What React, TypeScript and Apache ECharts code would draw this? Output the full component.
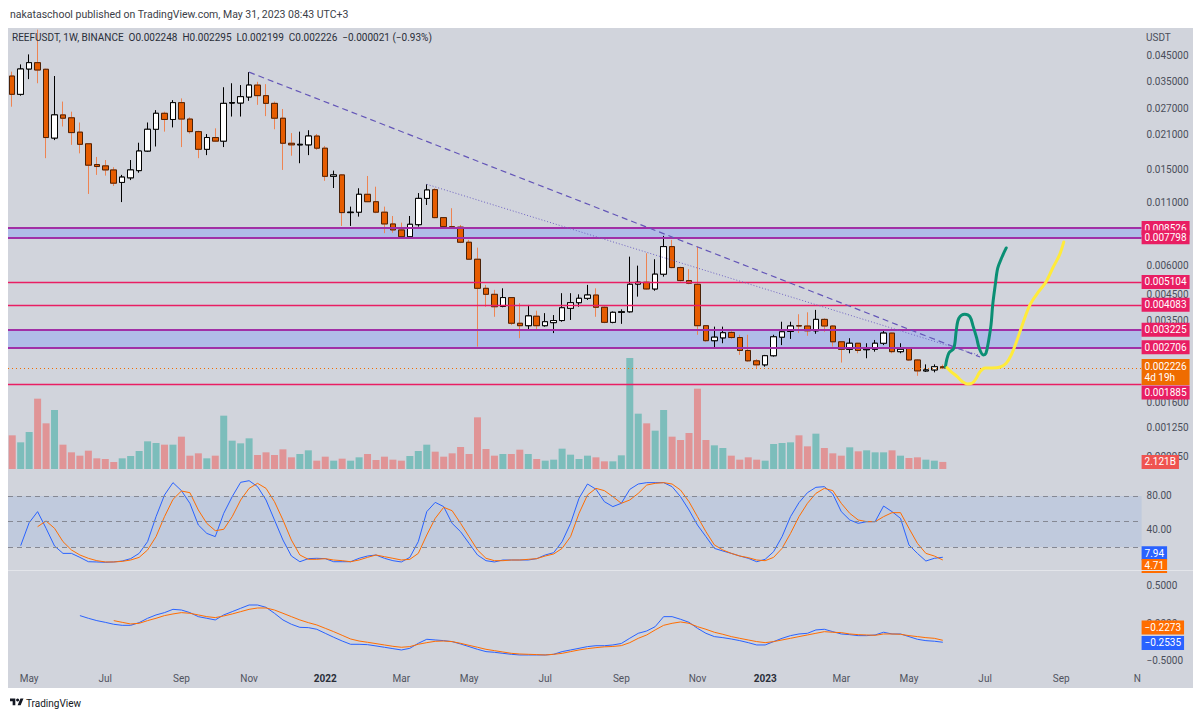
import React, { useEffect, useRef } from "react";
import * as echarts from "echarts";

echarts.graphic.registerShape(
  "tvlogo",
  echarts.graphic.extendPath("M14 22H7V11H0V4h14v18zM28 22h-8l7.5-18h8L28 22z", {})
);

// ---------- DATA ----------
const FIRST_WEEK = "2021-04-19";
const TOTAL_WEEKS = 134;
const MONTHS = ["Jan", "Feb", "Mar", "Apr", "May", "Jun", "Jul", "Aug", "Sep", "Oct", "Nov", "Dec"];

// [open, close, low, high]
const CANDLES: number[][] = [
  [0.0371, 0.0311, 0.0276, 0.0387], [0.0311, 0.0397, 0.0307, 0.0415], [0.0397, 0.0422, 0.036, 0.0457],
  [0.0422, 0.0393, 0.0346, 0.058], [0.0396, 0.0205, 0.0168, 0.0398], [0.0204, 0.0255, 0.02, 0.0371],
  [0.0255, 0.0247, 0.0228, 0.029], [0.0248, 0.0215, 0.0191, 0.0263], [0.0216, 0.0192, 0.0176, 0.0237],
  [0.0193, 0.0157, 0.0119, 0.0193], [0.0158, 0.0155, 0.0143, 0.017], [0.0156, 0.015, 0.0142, 0.0165],
  [0.015, 0.0132, 0.01285, 0.0154], [0.0133, 0.014, 0.011, 0.0143], [0.0139, 0.015, 0.0136, 0.0165],
  [0.0149, 0.018, 0.0146, 0.0195], [0.018, 0.0222, 0.0179, 0.0237], [0.0222, 0.0259, 0.0188, 0.0267],
  [0.0259, 0.0244, 0.0217, 0.0263], [0.0244, 0.0287, 0.0226, 0.0294], [0.0287, 0.0245, 0.0187, 0.0299],
  [0.0245, 0.0217, 0.0213, 0.0249], [0.0217, 0.0183, 0.0168, 0.0219], [0.0183, 0.0205, 0.0173, 0.0212],
  [0.0205, 0.0198, 0.0197, 0.0224], [0.0198, 0.0285, 0.0187, 0.0333], [0.0286, 0.0287, 0.0251, 0.0346],
  [0.0286, 0.0304, 0.0251, 0.034], [0.0303, 0.034, 0.0292, 0.0385], [0.034, 0.0307, 0.0281, 0.0351],
  [0.0307, 0.0285, 0.0252, 0.0343], [0.0285, 0.0247, 0.0222, 0.029], [0.0247, 0.0194, 0.015, 0.027],
  [0.0194, 0.0191, 0.0172, 0.0214], [0.0191, 0.0192, 0.016, 0.0217], [0.0191, 0.0208, 0.0173, 0.022],
  [0.0208, 0.0185, 0.0182, 0.0212], [0.0185, 0.0141, 0.0135, 0.0189], [0.0141, 0.0143, 0.0126, 0.0149],
  [0.0143, 0.00994, 0.00874, 0.0144], [0.00994, 0.00998, 0.00874, 0.01053], [0.00998, 0.01186, 0.00956, 0.01257],
  [0.01186, 0.01104, 0.011, 0.01415], [0.01104, 0.00998, 0.00988, 0.01276], [0.00998, 0.00891, 0.00815, 0.01053],
  [0.00891, 0.00841, 0.00819, 0.00962], [0.00841, 0.00788, 0.00784, 0.00902], [0.00788, 0.00888, 0.00784, 0.00962],
  [0.00885, 0.0114, 0.00868, 0.012], [0.0114, 0.01236, 0.0107, 0.01306], [0.0124, 0.00947, 0.00941, 0.01257],
  [0.00947, 0.00868, 0.00863, 0.0095], [0.00868, 0.00861, 0.00853, 0.01037], [0.00864, 0.00747, 0.0074, 0.00882],
  [0.00747, 0.00634, 0.0063, 0.00764], [0.00634, 0.00479, 0.00273, 0.00709], [0.00479, 0.00452, 0.00401, 0.00495],
  [0.00452, 0.00401, 0.00364, 0.00472], [0.00402, 0.00438, 0.00399, 0.00479], [0.00438, 0.00342, 0.00336, 0.0044],
  [0.00342, 0.00334, 0.00296, 0.00415], [0.00334, 0.00367, 0.00321, 0.00408], [0.00366, 0.00334, 0.00321, 0.00386],
  [0.00334, 0.00347, 0.00331, 0.00377], [0.00344, 0.00351, 0.00311, 0.0037], [0.00351, 0.00397, 0.00347, 0.00457],
  [0.00395, 0.00417, 0.00353, 0.00457], [0.00417, 0.00435, 0.00401, 0.00452], [0.00435, 0.00449, 0.00428, 0.00495],
  [0.00449, 0.00399, 0.00364, 0.00479], [0.00399, 0.00345, 0.00342, 0.00402], [0.00345, 0.0038, 0.00342, 0.00383],
  [0.0038, 0.00382, 0.0034, 0.00391], [0.00382, 0.00498, 0.00379, 0.0065], [0.00499, 0.00508, 0.00442, 0.00596],
  [0.00508, 0.00476, 0.00472, 0.00672], [0.00476, 0.00549, 0.00468, 0.00634], [0.00549, 0.00716, 0.00536, 0.00794],
  [0.00716, 0.00585, 0.00581, 0.00764], [0.00585, 0.00516, 0.00511, 0.0059], [0.00516, 0.00503, 0.00498, 0.00576],
  [0.00498, 0.00334, 0.00306, 0.00716], [0.00334, 0.00289, 0.00286, 0.00336], [0.00289, 0.00299, 0.00269, 0.00331],
  [0.00297, 0.00312, 0.00282, 0.00331], [0.00313, 0.00298, 0.00294, 0.00318], [0.00298, 0.00263, 0.00252, 0.00306],
  [0.00263, 0.00238, 0.00236, 0.00306], [0.00238, 0.00229, 0.0022, 0.00242], [0.00229, 0.0025, 0.00225, 0.00252],
  [0.0025, 0.003, 0.00248, 0.00306], [0.00299, 0.00315, 0.00277, 0.00347], [0.00316, 0.00333, 0.00294, 0.00347],
  [0.00334, 0.00333, 0.00311, 0.00373], [0.00333, 0.00318, 0.00303, 0.0038], [0.00318, 0.00355, 0.00309, 0.00389],
  [0.00355, 0.00333, 0.00315, 0.00359], [0.00333, 0.00286, 0.00273, 0.00336], [0.00286, 0.00266, 0.00234, 0.00287],
  [0.00266, 0.00282, 0.00256, 0.00296], [0.00282, 0.00263, 0.00256, 0.00283], [0.00265, 0.00267, 0.00244, 0.00282],
  [0.00266, 0.00282, 0.0026, 0.00291], [0.00282, 0.00311, 0.00277, 0.00321], [0.00311, 0.0026, 0.00256, 0.00312],
  [0.0026, 0.00266, 0.00256, 0.00282], [0.00268, 0.0024, 0.00238, 0.0027], [0.0024, 0.00216, 0.00206, 0.00242],
  [0.00216, 0.00218, 0.00214, 0.0023], [0.00218, 0.002248, 0.00213, 0.0023], [0.002248, 0.002226, 0.002199, 0.002295],
];

// volume in billions
const VOLUME: number[] = [
  10.1, 8.0, 11.1, 21.1, 13.7, 17.7, 7.3, 5.0, 4.0, 5.5,
  3.2, 3.0, 2.1, 3.2, 3.9, 5.4, 8.3, 7.8, 7.3, 7.3,
  9.7, 4.0, 4.7, 3.2, 4.0, 16.0, 8.5, 7.7, 9.2, 4.2,
  5.0, 4.2, 5.9, 3.5, 4.5, 5.6, 2.5, 3.7, 2.5, 3.1,
  2.5, 3.5, 4.5, 2.7, 3.7, 2.8, 2.5, 3.9, 5.4, 7.3,
  5.2, 3.7, 4.7, 6.6, 4.5, 15.5, 6.0, 4.0, 4.5, 4.5,
  5.8, 4.5, 3.0, 2.5, 2.8, 6.1, 4.3, 3.0, 4.0, 3.5,
  2.3, 2.3, 4.1, 33.3, 16.6, 13.7, 11.5, 17.7, 9.7, 8.7,
  10.8, 24.1, 8.7, 7.1, 6.3, 4.0, 2.8, 3.5, 2.8, 2.5,
  7.5, 7.8, 8.0, 10.1, 6.8, 10.6, 6.3, 4.7, 4.0, 6.5,
  5.3, 5.6, 5.0, 5.0, 5.6, 4.0, 3.3, 3.5, 2.8, 2.5,
  2.121,
];

const STOCH_K: (number | null)[] = [
  null, 21.6, 48.6, 61.6, 42, 21.2, 12.5, 12.5, 7.8, 2.7,
  2.4, 2, 2.4, 3.5, 6.3, 12.5, 26.3, 55.7, 81.2, 95.7,
  86.3, 71.4, 45.9, 36, 32.2, 59.6, 79.2, 96.1, 98, 91,
  75.3, 51.8, 28.2, 9.4, 2.7, 6.3, 6.7, 6.3, 2.7, 2.7,
  2.7, 6.7, 9.4, 10.6, 6.7, 3.9, 2.4, 7.8, 26.3, 61.6,
  72.5, 67.5, 47.8, 38, 24.3, 10.6, 3.9, 2.4, 4.7, 4.7,
  4.7, 4.7, 6.3, 10.6, 13.3, 26.3, 47.8, 77.3, 94.1, 88,
  73.3, 67.5, 71.4, 87.8, 94.1, 95.7, 95.7, 95.7, 91, 79.2,
  63.5, 45.9, 32.2, 18.4, 15.3, 12.5, 9.4, 6.7, 2.7, 5.5,
  14.5, 32.2, 55.7, 72.2, 83.9, 90.2, 91, 82.4, 61.6, 51.8,
  47.8, 49.8, 49.8, 68.2, 61.6, 53.7, 22.4, 12.5, 3.5, 6.7,
  7.94,
];

const STOCH_D: (number | null)[] = [
  null, null, null, 43.9, 50.6, 42, 26.3, 16.5, 10.6, 6.7,
  3.9, 2.4, 2.4, 3.1, 4.7, 7.8, 16.5, 32.2, 55.7, 76,
  85.9, 83.9, 63.5, 47.8, 39.2, 40.8, 55.7, 75.3, 89, 94.9,
  89, 73.3, 51.8, 28.2, 10.6, 5.5, 5.5, 6.3, 4.7, 3.9,
  2.7, 4.7, 7.8, 10.6, 8.6, 6.7, 4.7, 5.5, 12.5, 34.1,
  53.7, 66.7, 62.7, 47.8, 32.2, 16.5, 6.7, 3.9, 3.9, 4.7,
  4.7, 5.5, 6.3, 9.4, 11.8, 18.4, 32.2, 59.6, 81.2, 89,
  86.3, 79.2, 71.4, 75.3, 83.1, 92.9, 94.9, 95.7, 94.1, 87,
  73.3, 55.7, 38, 22.4, 16.5, 12.5, 9.4, 7.5, 4.7, 3.9,
  7.8, 18.4, 36, 55.7, 71.4, 83.1, 89, 86.3, 71.4, 59.6,
  51.8, 49.8, 49.8, 55.7, 60.4, 60.4, 42, 24.3, 12.5, 9.4,
  4.71,
];

const OSC_BLUE: (number | null)[] = [
  null, null, null, null, null, null, null, null, 0.103, 0.067,
  0.036, 0.013, -0.013, -0.027, -0.027, 0.009, 0.067, 0.112, 0.143, 0.187,
  0.178, 0.143, 0.089, 0.067, 0.045, 0.112, 0.156, 0.201, 0.245, 0.245,
  0.214, 0.134, 0.045, -0.013, -0.054, -0.058, -0.08, -0.134, -0.187, -0.237,
  -0.281, -0.281, -0.286, -0.303, -0.321, -0.339, -0.357, -0.335, -0.268, -0.214,
  -0.223, -0.232, -0.245, -0.277, -0.312, -0.348, -0.379, -0.388, -0.402, -0.415,
  -0.424, -0.424, -0.424, -0.424, -0.415, -0.379, -0.357, -0.335, -0.312, -0.3,
  -0.3, -0.29, -0.27, -0.2, -0.134, -0.103, -0.045, 0.089, 0.089, 0.054,
  0.013, -0.067, -0.134, -0.178, -0.192, -0.21, -0.232, -0.259, -0.29, -0.29,
  -0.245, -0.201, -0.165, -0.143, -0.134, -0.089, -0.08, -0.112, -0.143, -0.152,
  -0.165, -0.165, -0.156, -0.12, -0.143, -0.143, -0.178, -0.214, -0.232, -0.24,
  -0.2535,
];

const OSC_ORANGE: (number | null)[] = [
  null, null, null, null, null, null, null, null, null, null,
  null, null, 0.036, 0.013, -0.009, 0, 0.036, 0.067, 0.103, 0.125,
  0.143, 0.134, 0.112, 0.089, 0.076, 0.098, 0.125, 0.156, 0.187, 0.205,
  0.205, 0.178, 0.134, 0.089, 0.045, 0.009, -0.022, -0.067, -0.112, -0.161,
  -0.21, -0.237, -0.254, -0.272, -0.29, -0.308, -0.321, -0.312, -0.281, -0.259,
  -0.241, -0.237, -0.245, -0.268, -0.295, -0.321, -0.348, -0.366, -0.384, -0.402,
  -0.411, -0.415, -0.419, -0.424, -0.415, -0.402, -0.379, -0.357, -0.339, -0.326,
  -0.315, -0.31, -0.299, -0.259, -0.201, -0.156, -0.089, -0.027, 0, 0.018,
  0, -0.045, -0.08, -0.12, -0.147, -0.178, -0.201, -0.223, -0.245, -0.259,
  -0.245, -0.223, -0.201, -0.178, -0.156, -0.134, -0.112, -0.12, -0.125, -0.143,
  -0.152, -0.156, -0.161, -0.143, -0.143, -0.147, -0.165, -0.178, -0.192, -0.201,
  -0.2273,
];

// price axis tick labels
const PRICE_TICKS = ["0.045000", "0.035000", "0.027000", "0.021000", "0.015000", "0.011000", "0.006000", "0.004500", "0.003500", "0.001600", "0.001250", "0.000950"];
const LEVELS = [0.005104, 0.004083, 0.001885];
const ZONES = [[0.008526, 0.007798], [0.003225, 0.002706]];
const LAST_PRICE = 0.002226;
const STOCH_TICKS = [80, 40];
const STOCH_BANDS = [80, 50, 20];
const OSC_TICKS = [0.5, 0, -0.5];

// drawings: [week index, price]
const TREND_DASHED = [[28, 0.0385], [114.4, 0.00247]];
const TREND_DOTTED = [[49, 0.01306], [114.2, 0.00252]];
const GREEN_PATH = [
  [110.3, 0.00224], [110.7, 0.00256], [111.3, 0.002687], [111.6, 0.003206], [111.9, 0.003588], [112.6, 0.003729],
  [113.2, 0.003644], [113.6, 0.003309], [114.0, 0.002967], [114.3, 0.002694], [114.8, 0.002519], [115.1, 0.00256],
  [115.4, 0.00287], [115.7, 0.003364], [115.9, 0.00408], [116.2, 0.004948], [116.5, 0.005828], [117.0, 0.00648], [117.5, 0.007068],
];
const YELLOW_PATH = [
  [110.5, 0.002228], [111.0, 0.002141], [111.7, 0.002043], [112.3, 0.001951], [112.9, 0.001904], [113.5, 0.001923],
  [113.9, 0.001998], [114.4, 0.002141], [115.0, 0.002222], [115.8, 0.002222], [116.8, 0.002243], [117.5, 0.002326],
  [118.1, 0.002519], [118.7, 0.002855], [119.4, 0.003364], [120.3, 0.00408], [121.3, 0.004625], [122.2, 0.005093],
  [123.0, 0.005828], [123.8, 0.006607], [124.3, 0.007489],
];

// ---------- CHART ----------
const FONT = "Roboto, 'Noto Sans', sans-serif";
const ln = Math.log;

function buildOption() {
  const cats: string[] = [];
  const t0 = Date.parse(FIRST_WEEK + "T00:00:00Z");
  for (let i = 0; i < TOTAL_WEEKS; i++) cats.push(new Date(t0 + i * 7 * 86400000).toISOString().slice(0, 10));

  const candleData = CANDLES.map(([o, c, l, h]) => [ln(o), ln(c), ln(l), ln(h)]);
  const bodyData = CANDLES.map(([o, c]) => [ln(o), ln(c), ln(Math.min(o, c)), ln(Math.max(o, c))]);
  const volData = VOLUME.map((v, i) => ({
    value: v,
    itemStyle: { color: CANDLES[i][1] >= CANDLES[i][0] ? "#7cbdbb" : "#e09496" },
  }));

  const invisible = { color: "rgba(0,0,0,0)", width: 0 };
  const grayLabel = (text: string) => ({
    show: true, position: "end", distance: 5, formatter: text, color: "#4a4e5a", fontSize: 10, fontFamily: FONT,
  });
  const boxLabel = (text: string, bg: string, offsetY = 0) => ({
    show: true, position: "end", distance: 0, formatter: text, color: "#ffffff", backgroundColor: bg,
    padding: [2, 3, 1, 3], fontSize: 10, fontFamily: FONT, offset: [0, offsetY], lineHeight: 11,
  });

  const catAxis = (gi: number) => ({
    type: "category", gridIndex: gi, data: cats, boundaryGap: true, show: gi === 3,
    axisLine: { show: false }, axisTick: { show: false }, splitLine: { show: false },
    axisLabel: {
      show: gi === 3, color: "#50535e", fontSize: 10, margin: 8, fontFamily: FONT,
      interval: (idx: number, val: string) => {
        const d = new Date(val + "T00:00:00Z");
        return d.getUTCDate() <= 7 && d.getUTCMonth() % 2 === 0;
      },
      formatter: (val: string, idx: number) => {
        const d = new Date(val + "T00:00:00Z");
        const m = d.getUTCMonth();
        if (m === 0) return "{y|" + d.getUTCFullYear() + "}";
        if (idx === TOTAL_WEEKS - 1) return MONTHS[m].slice(0, 1);
        return MONTHS[m];
      },
      rich: { y: { fontWeight: "bold", fontSize: 10, color: "#2a2e39", fontFamily: FONT } },
    },
  });

  const L = 8, R = 58.4;
  const lastK = STOCH_K[STOCH_K.length - 1] as number;
  const lastD = STOCH_D[STOCH_D.length - 1] as number;
  const lastB = OSC_BLUE[OSC_BLUE.length - 1] as number;
  const lastO = OSC_ORANGE[OSC_ORANGE.length - 1] as number;

  return {
    animation: false,
    backgroundColor: "#ffffff",
    textStyle: { fontFamily: FONT },
    grid: [
      { left: L, right: R, top: 28, height: 442 },
      { left: L, right: R, top: 341, height: 128 },
      { left: L, right: R, top: 470, height: 100 },
      { left: L, right: R, top: 570, height: 95 },
    ],
    xAxis: [
      catAxis(0), catAxis(1), catAxis(2), catAxis(3),
      { type: "value", gridIndex: 0, min: -0.5, max: TOTAL_WEEKS - 0.5, show: false },
    ],
    yAxis: [
      { type: "value", gridIndex: 0, min: -7.09337, max: -2.83108, show: false },
      { type: "value", gridIndex: 1, min: 0, max: 38.4, show: false },
      { type: "value", gridIndex: 2, min: -7.0588, max: 110.588, show: false },
      { type: "value", gridIndex: 3, min: -0.5582, max: 0.7135, show: false },
    ],
    graphic: [
      { type: "rect", z: -100, shape: { x: 8, y: 28, width: 1185, height: 660 }, style: { fill: "#d1d4dc" }, silent: true },
      { type: "line", z: 50, shape: { x1: 8, y1: 570.5, x2: 1193, y2: 570.5 }, style: { stroke: "#e3e5ea", lineWidth: 1 }, silent: true },
      { type: "text", x: 10, y: 14, style: { text: "nakataschool published on TradingView.com, May 31, 2023 08:43 UTC+3", fill: "#3b3e47", font: "10.5px " + FONT, textVerticalAlign: "middle" } },
      { type: "text", z: 60, x: 12, y: 37, style: { text: "REEFUSDT, 1W, BINANCE  O0.002248  H0.002295  L0.002199  C0.002226  \u22120.000021 (\u22120.93%)", fill: "#2a2e39", font: "10px " + FONT, textVerticalAlign: "middle" } },
      { type: "text", z: 60, x: 1146, y: 37, style: { text: "USDT", fill: "#4a4e5a", font: "10px " + FONT, textVerticalAlign: "middle" } },
      { type: "tvlogo", x: 10, y: 697, scaleX: 0.38, scaleY: 0.38, style: { fill: "#131722" } },
      { type: "circle", shape: { cx: 10 + 20 * 0.38, cy: 697 + 8 * 0.38, r: 4 * 0.38 }, style: { fill: "#131722" } },
      { type: "text", x: 26, y: 703, style: { text: "TradingView", fill: "#131722", font: "10px " + FONT, textVerticalAlign: "middle" } },
    ],
    series: [
      {
        name: "zones", type: "line", xAxisIndex: 0, yAxisIndex: 0, data: [], z: 1, silent: true, clip: false,
        markArea: {
          silent: true,
          itemStyle: { color: "rgba(110,140,255,0.33)" },
          data: ZONES.map(([a, b]) => [{ yAxis: ln(a) }, { yAxis: ln(b) }]),
        },
      },
      {
        name: "levels", type: "line", xAxisIndex: 0, yAxisIndex: 0, data: [], z: 2, silent: true, clip: false,
        markLine: {
          silent: true, symbol: ["none", "none"], animation: false,
          label: { show: false },
          data: [
            ...LEVELS.map((v) => ({ yAxis: ln(v), lineStyle: { color: "#e91e63", width: 1.3, type: "solid" } })),
            ...ZONES.flat().map((v) => ({ yAxis: ln(v), lineStyle: { color: "#a12fa6", width: 2, type: "solid" } })),
            { yAxis: ln(LAST_PRICE), lineStyle: { color: "#ef6c00", width: 1, type: [1, 3] } },
          ],
        },
      },
      {
        name: "volume", type: "bar", xAxisIndex: 1, yAxisIndex: 1, data: volData, barWidth: 7, z: 1, silent: true,
      },
      {
        name: "wicks", type: "candlestick", xAxisIndex: 0, yAxisIndex: 0, data: candleData, barWidth: 6, z: 3, silent: true,
        itemStyle: { color: "#ffffff", color0: "#e65c00", borderColor: "#000000", borderColor0: "#ee8452", borderWidth: 1 },
      },
      {
        name: "bodies", type: "candlestick", xAxisIndex: 0, yAxisIndex: 0, data: bodyData, barWidth: 6, z: 4, silent: true,
        itemStyle: { color: "#ffffff", color0: "#e65c00", borderColor: "#000000", borderColor0: "#4a2208", borderWidth: 1 },
      },
      {
        name: "trendDashed", type: "line", xAxisIndex: 4, yAxisIndex: 0, z: 5, silent: true, showSymbol: false, symbol: "none",
        data: TREND_DASHED.map(([x, p]) => [x, ln(p)]),
        lineStyle: { color: "#6456b8", width: 1.2, type: [6, 4] },
      },
      {
        name: "trendDotted", type: "line", xAxisIndex: 4, yAxisIndex: 0, z: 5, silent: true, showSymbol: false, symbol: "none",
        data: TREND_DOTTED.map(([x, p]) => [x, ln(p)]),
        lineStyle: { color: "#6f63c2", width: 1, type: [1, 2] },
      },
      {
        name: "green", type: "line", xAxisIndex: 4, yAxisIndex: 0, z: 6, silent: true, showSymbol: false, symbol: "none", smooth: 0.35,
        data: GREEN_PATH.map(([x, p]) => [x, ln(p)]),
        lineStyle: { color: "#0b8f74", width: 3, cap: "round", join: "round" },
      },
      {
        name: "yellow", type: "line", xAxisIndex: 4, yAxisIndex: 0, z: 6, silent: true, showSymbol: false, symbol: "none", smooth: 0.35,
        data: YELLOW_PATH.map(([x, p]) => [x, ln(p)]),
        lineStyle: { color: "#ffeb3b", width: 3, cap: "round", join: "round" },
      },
      {
        name: "priceTicks", type: "line", xAxisIndex: 0, yAxisIndex: 0, data: [], z: 7, silent: true, clip: false,
        markLine: {
          silent: true, symbol: ["none", "none"], animation: false,
          data: PRICE_TICKS.map((t) => ({ yAxis: ln(parseFloat(t)), lineStyle: invisible, label: grayLabel(t) })),
        },
      },
      {
        name: "priceBoxes", type: "line", xAxisIndex: 0, yAxisIndex: 0, data: [], z: 8, silent: true, clip: false,
        markLine: {
          silent: true, symbol: ["none", "none"], animation: false,
          data: [
            ...ZONES.flat().map((v) => ({ yAxis: ln(v), lineStyle: invisible, label: boxLabel(v.toFixed(6), "#e91e63") })),
            ...LEVELS.map((v) => ({ yAxis: ln(v), lineStyle: invisible, label: boxLabel(v.toFixed(6), "#e91e63", v < LAST_PRICE ? 8 : 0) })),
            { yAxis: ln(LAST_PRICE), lineStyle: invisible, label: { ...boxLabel(LAST_PRICE.toFixed(6) + "\n4d 19h", "#ef6c00", 4), padding: [2, 3, 2, 3] } },
          ],
        },
      },
      {
        name: "volBox", type: "line", xAxisIndex: 1, yAxisIndex: 1, data: [], z: 9, silent: true, clip: false,
        markLine: {
          silent: true, symbol: ["none", "none"], animation: false,
          data: [{ yAxis: VOLUME[VOLUME.length - 1], lineStyle: invisible, label: boxLabel(VOLUME[VOLUME.length - 1].toFixed(3) + "B", "#ef5350") }],
        },
      },
      // Stoch RSI pane
      {
        name: "stochBands", type: "line", xAxisIndex: 2, yAxisIndex: 2, data: [], z: 1, silent: true, clip: false,
        markArea: { silent: true, itemStyle: { color: "rgba(126,167,224,0.2)" }, data: [[{ yAxis: STOCH_BANDS[2] }, { yAxis: STOCH_BANDS[0] }]] },
        markLine: {
          silent: true, symbol: ["none", "none"], animation: false,
          data: STOCH_BANDS.map((v) => ({ yAxis: v, lineStyle: { color: "#858893", width: 1, type: [5, 4] }, label: { show: false } })),
        },
      },
      {
        name: "K", type: "line", xAxisIndex: 2, yAxisIndex: 2, data: STOCH_K, z: 3, silent: true, showSymbol: false, symbol: "none",
        lineStyle: { color: "#2962ff", width: 1 },
      },
      {
        name: "D", type: "line", xAxisIndex: 2, yAxisIndex: 2, data: STOCH_D, z: 3, silent: true, showSymbol: false, symbol: "none",
        lineStyle: { color: "#ff6d00", width: 1 },
      },
      {
        name: "stochTicks", type: "line", xAxisIndex: 2, yAxisIndex: 2, data: [], z: 7, silent: true, clip: false,
        markLine: {
          silent: true, symbol: ["none", "none"], animation: false,
          data: [
            ...STOCH_TICKS.map((v) => ({ yAxis: v, lineStyle: invisible, label: grayLabel(v.toFixed(2)) })),
            { yAxis: lastK, lineStyle: invisible, label: boxLabel(lastK.toFixed(2), "#2962ff", -4) },
            { yAxis: lastD, lineStyle: invisible, label: boxLabel(lastD.toFixed(2), "#ff6d00", 6) },
          ],
        },
      },
      // oscillator pane
      {
        name: "oscBlue", type: "line", xAxisIndex: 3, yAxisIndex: 3, data: OSC_BLUE, z: 3, silent: true, showSymbol: false, symbol: "none",
        lineStyle: { color: "#2962ff", width: 1 },
      },
      {
        name: "oscOrange", type: "line", xAxisIndex: 3, yAxisIndex: 3, data: OSC_ORANGE, z: 3, silent: true, showSymbol: false, symbol: "none",
        lineStyle: { color: "#ff6d00", width: 1 },
      },
      {
        name: "oscTicks", type: "line", xAxisIndex: 3, yAxisIndex: 3, data: [], z: 7, silent: true, clip: false,
        markLine: {
          silent: true, symbol: ["none", "none"], animation: false,
          data: OSC_TICKS.map((v) => ({ yAxis: v, lineStyle: invisible, label: grayLabel((v < 0 ? "\u2212" : "") + Math.abs(v).toFixed(4)) })),
        },
      },
      {
        name: "oscBoxes", type: "line", xAxisIndex: 3, yAxisIndex: 3, data: [], z: 8, silent: true, clip: false,
        markLine: {
          silent: true, symbol: ["none", "none"], animation: false,
          data: [
            { yAxis: lastO, lineStyle: invisible, label: boxLabel("\u2212" + Math.abs(lastO).toFixed(4), "#ff6d00", -13) },
            { yAxis: lastB, lineStyle: invisible, label: boxLabel("\u2212" + Math.abs(lastB).toFixed(4), "#2962ff", 1) },
          ],
        },
      },
    ],
  };
}

export default function App() {
  const ref = useRef<HTMLDivElement>(null);
  useEffect(() => {
    if (!ref.current) return;
    const chart = echarts.init(ref.current, null, { renderer: "svg" });
    chart.setOption(buildOption() as any);
    return () => chart.dispose();
  }, []);
  return (
    <div
      ref={ref}
      style={{ position: "absolute", left: 0, top: 0, width: 1200, height: 717, background: "#ffffff" }}
    />
  );
}
